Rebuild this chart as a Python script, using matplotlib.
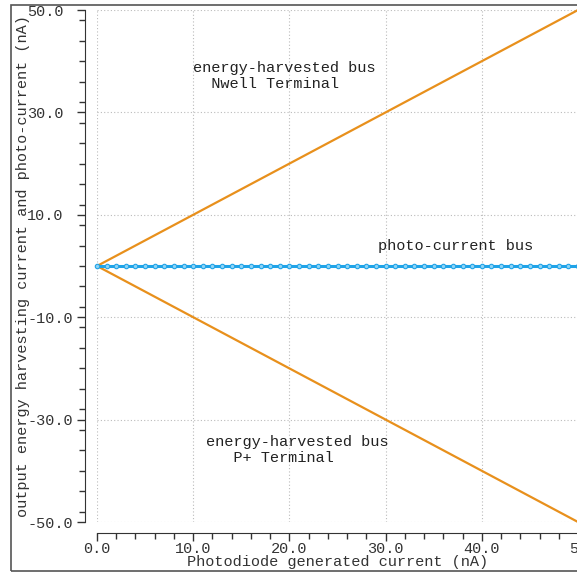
import matplotlib
matplotlib.use("Agg")
import matplotlib.pyplot as plt
from matplotlib.patches import Rectangle
from matplotlib.ticker import MultipleLocator, FixedLocator

# ---- data ----
x_bus = [0, 50]
nwell_current = [0, 50]
pplus_current = [0, -50]
x_photo = [0, 1, 2, 3, 4, 5, 6, 7, 8, 9, 10, 11, 12, 13, 14, 15, 16, 17, 18, 19, 20,
           21, 22, 23, 24, 25, 26, 27, 28, 29, 30, 31, 32, 33, 34, 35, 36, 37, 38, 39, 40,
           41, 42, 43, 44, 45, 46, 47, 48, 49, 50]
photo_current = [0.0] * 51
x_ticks = [0, 10, 20, 30, 40, 50]
x_tick_labels = ["0.0", "10.0", "20.0", "30.0", "40.0", "50"]
y_ticks = [-50, -30, -10, 10, 30, 50]
y_tick_labels = ["-50.0", "-30.0", "-10.0", "10.0", "30.0", "50.0"]

W, H = 577, 575
fig = plt.figure(figsize=(W / 100, H / 100), dpi=100)
mono = "Liberation Mono"

left = 97 / W
right = 578 / W
top = 1 - 10 / H
bottom = 1 - 522 / H
ax = fig.add_axes([left, bottom, right - left, top - bottom])
ax.set_xlim(0, 50)
ax.set_ylim(-50, 50)

orange = "#E8901C"
blue = "#1FA3E8"
ax.plot(x_bus, nwell_current, color=orange, lw=1.6, clip_on=False, zorder=3)
ax.plot(x_bus, pplus_current, color=orange, lw=1.6, clip_on=False, zorder=3)
ax.plot(x_photo, photo_current, color=blue, lw=2.2, marker="o", ms=3.2,
        mfc="#8FD3F5", mec=blue, mew=0.8, clip_on=False, zorder=4)

ax.xaxis.set_major_locator(FixedLocator(x_ticks))
ax.yaxis.set_major_locator(FixedLocator(y_ticks))
ax.xaxis.set_minor_locator(MultipleLocator(2))
ax.yaxis.set_minor_locator(MultipleLocator(4))
ax.set_xticklabels(x_tick_labels)
ax.set_yticklabels(y_tick_labels)
ax.grid(True, which="major", color="#BBBBBB", ls=(0, (1, 2)), lw=0.8)

for s in ("top", "right"):
    ax.spines[s].set_visible(False)
ax.spines["left"].set_position(("outward", 9))
ax.spines["bottom"].set_position(("outward", 8))
ax.spines["left"].set_color("#333333")
ax.spines["bottom"].set_color("#333333")

ax.tick_params(axis="both", which="major", length=6, width=1, color="#333333",
               labelsize=11, labelcolor="#333333")
ax.tick_params(axis="both", which="minor", length=4, width=1, color="#333333")
for lab in ax.get_xticklabels() + ax.get_yticklabels():
    lab.set_fontfamily(mono)
# y tick labels are left-aligned at x ~ 33 px in the reference
ax.tick_params(axis="y", pad=(88 - 6 - 33) * 0.72)
for lab in ax.get_yticklabels():
    lab.set_horizontalalignment("left")
ax.tick_params(axis="x", pad=0.5)

ax.set_xlabel("Photodiode generated current (nA)", fontfamily=mono, fontsize=11,
              color="#333333")
ax.xaxis.set_label_coords(0.5, -(555 - 522) / 512)
ax.set_ylabel("output energy harvesting current and photo-current (nA)",
              fontfamily=mono, fontsize=11, color="#333333", labelpad=0)
ax.yaxis.set_label_coords(-67 / (W * (right - left)), 0.5)

ax.text(10.0, 37.1, "energy-harvested bus\n  Nwell Terminal", fontfamily=mono, fontsize=11,
        color="#222222", ha="left", va="center", linespacing=1.2)
ax.text(37.3, 3.9, "photo-current bus", fontfamily=mono, fontsize=11,
        color="#222222", ha="center", va="center")
ax.text(11.3, -35.9, "energy-harvested bus\n   P+ Terminal", fontfamily=mono, fontsize=11,
        color="#222222", ha="left", va="center", linespacing=1.2)

# figure frame
fig.patches.append(Rectangle((11 / W, 1 - 571 / H), 1.0, (571 - 5) / H,
                             transform=fig.transFigure, fill=False,
                             edgecolor="#555555", lw=1.2))

fig.savefig("out.png", dpi=100)
